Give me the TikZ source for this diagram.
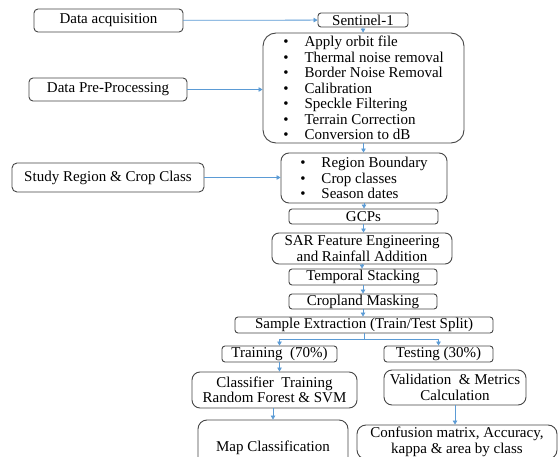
\documentclass[tikz,border=0pt]{standalone}
\usepackage{fontspec}
\setmainfont{Liberation Serif}
\usetikzlibrary{arrows.meta}
\definecolor{flowblue}{RGB}{91,155,213}
\definecolor{edgegray}{RGB}{70,70,70}

\begin{document}
\begin{tikzpicture}[x=1pt,y=-1pt,
  box/.style={draw=edgegray,line width=0.9pt,rounded corners=4pt,inner sep=0pt,
    align=center,font=\fontsize{15}{15.5}\selectfont},
  listbox/.style={box,align=left,rounded corners=10pt},
  flow/.style={draw=flowblue,line width=0.8pt,-{Triangle[length=4pt,width=4.5pt]}}]
\clip (0,0) rectangle (559,457);
\fill[white] (0,0) rectangle (559,457);

\node[box,minimum width=149,minimum height=23] (acq) at (108.5,20.5) {Data acquisition};
\node[box,minimum width=158,minimum height=23] (pre) at (108,89.5) {Data Pre-Processing};
\node[box,minimum width=192,minimum height=29,rounded corners=5pt] (study) at (108,177.5) {Study Region \& Crop Class};

\node[box,minimum width=90,minimum height=14,rounded corners=3pt] (sent) at (363,20) {Sentinel-1};
\node[listbox,minimum width=201,minimum height=110,rounded corners=13pt] (steps) at (363.5,88)
  {\textbullet\hspace{16pt}Apply orbit file\\
   \textbullet\hspace{16pt}Thermal noise removal\\
   \textbullet\hspace{16pt}Border Noise Removal\\
   \textbullet\hspace{16pt}Calibration\\
   \textbullet\hspace{16pt}Speckle Filtering\\
   \textbullet\hspace{16pt}Terrain Correction\\
   \textbullet\hspace{16pt}Conversion to dB};
\node[listbox,minimum width=166,minimum height=50,rounded corners=8pt] (region) at (364,178)
  {\textbullet\hspace{16pt}Region Boundary\\
   \textbullet\hspace{16pt}Crop classes\\
   \textbullet\hspace{16pt}Season dates};
\node[box,minimum width=149,minimum height=15,rounded corners=3pt] (gcp) at (363.5,216.5) {GCPs};
\node[box,minimum width=180,minimum height=31,rounded corners=7pt] (sar) at (362,248.5)
  {SAR Feature Engineering\\and Rainfall Addition};
\node[box,minimum width=148,minimum height=16,rounded corners=3pt] (stack) at (363,277) {Temporal Stacking};
\node[box,minimum width=148,minimum height=15,rounded corners=3pt] (mask) at (363,301.5) {Cropland Masking};
\node[box,minimum width=258,minimum height=16,rounded corners=3pt] (sample) at (364,325) {Sample Extraction (Train/Test Split)};

\node[box,minimum width=115,minimum height=16,rounded corners=3pt] (train) at (279.5,354) {Training\ \ (70\%)};
\node[box,minimum width=109,minimum height=16,rounded corners=3pt] (test) at (438.5,354) {Testing (30\%)};
\node[box,minimum width=165,minimum height=36,rounded corners=8pt] (clf) at (274.5,390)
  {Classifier\ \ Training\\Random Forest \& SVM};
\node[box,minimum width=142,minimum height=35,rounded corners=8pt] (val) at (455,387.5)
  {Validation\ \ \& Metrics\\Calculation};
\node[box,minimum width=150,minimum height=56,rounded corners=9pt] (map) at (273,448) {Map Classification};
\node[box,minimum width=200,minimum height=34,rounded corners=9pt] (conf) at (457,442)
  {Confusion matrix,\ Accuracy,\\kappa \& area by class};

\draw[flow] (acq) -- (sent);
\draw[flow] (pre) -- (pre -| steps.west);
\draw[flow] (study) -- (study -| region.west);
\draw[flow] (sent) -- (steps);
\draw[flow] (steps.south) -- (steps.south |- region.north);
\draw[flow] (region.south) -- (region.south |- gcp.north);
\draw[flow] (gcp) -- (gcp |- sar.north);
\draw[flow] (sar.south) -- (sar.south |- stack.north);
\draw[flow] (stack) -- (mask);
\draw[flow] (mask.south) -- (mask.south |- sample.north);

\coordinate (split) at ([yshift=-6pt]sample.south);
\draw[flowblue,line width=0.8pt] (sample.south) -- (split);
\draw[flowblue,line width=0.8pt] (split -| train) -- (split -| test);
\draw[flow] (split -| train) -- (train);
\draw[flow] (split -| test) -- (test);

\draw[flow] (train.south) -- (train.south |- clf.north);
\draw[flow] (map.north |- clf.south) -- (map.north);
\draw[flow] (val.south) -- (val.south |- conf.north);
\end{tikzpicture}
\end{document}
